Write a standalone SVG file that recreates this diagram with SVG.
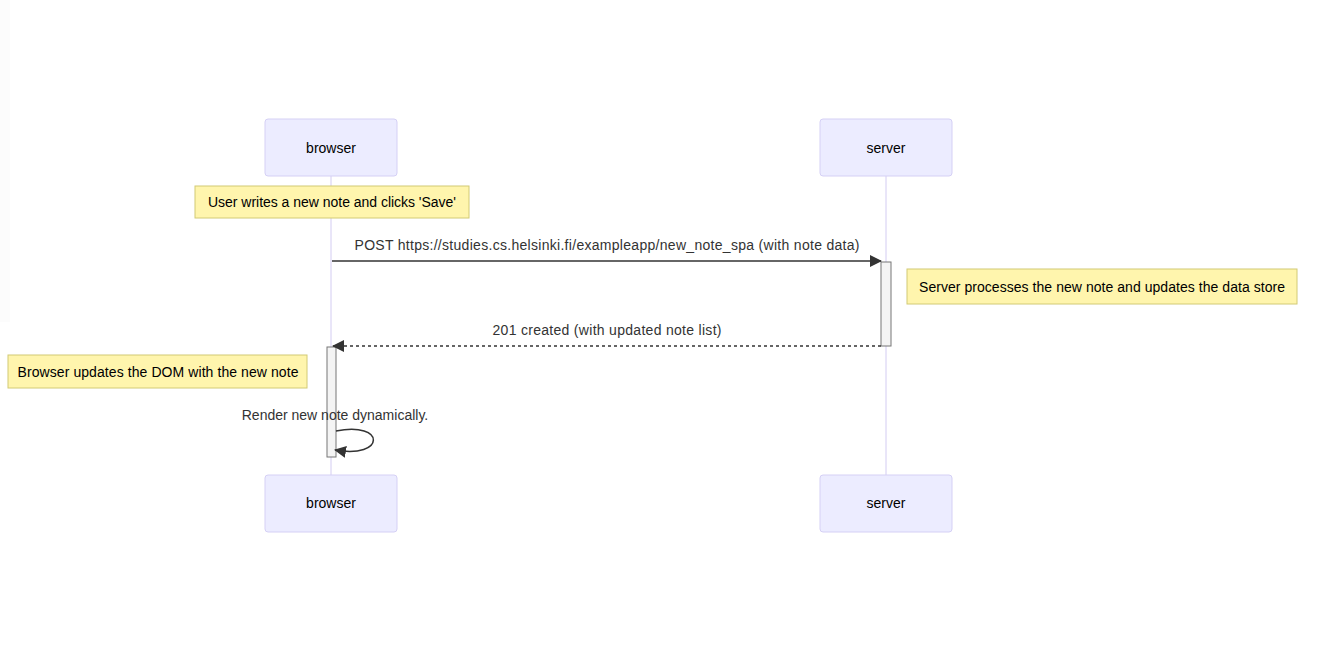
<svg xmlns="http://www.w3.org/2000/svg" width="1338" height="664" viewBox="0 0 1338 664">
  <style>
    .actor { fill: #ececff; stroke: #d5d0f5; stroke-width: 1; }
    .actor-text { font-family: "Liberation Sans", Arial, sans-serif; font-size: 14px; fill: #000; text-anchor: middle; dominant-baseline: central; }
    .lifeline { stroke: #d3ccf2; stroke-width: 1; }
    .note { fill: #fff5ad; stroke: #d2ca75; stroke-width: 1; }
    .note-text { font-family: "Liberation Sans", Arial, sans-serif; font-size: 14px; fill: #000; text-anchor: middle; dominant-baseline: central; }
    .msg-text { font-family: "Liberation Sans", Arial, sans-serif; font-size: 14px; fill: #333; text-anchor: middle; dominant-baseline: central; }
    .msg { stroke: #333; stroke-width: 1.5; fill: none; }
    .dashed { stroke-dasharray: 3 3; }
    .activation { fill: #f4f4f4; stroke: #777; stroke-width: 1; }
  </style>
  <defs>
    <marker id="arrowhead" viewBox="0 0 12 12" refX="11" refY="6" markerWidth="12" markerHeight="12" markerUnits="userSpaceOnUse" orient="auto">
      <path d="M0,0 L12,6 L0,12 z" fill="#333"/>
    </marker>
  </defs>

  <rect x="0" y="0" width="1338" height="664" fill="#fff"/>
  <rect x="0" y="0" width="10" height="322" fill="#fcfcfc"/>

  <!-- lifelines -->
  <g id="lifelines">
    <line class="lifeline" x1="331" y1="176" x2="331" y2="475"/>
    <line class="lifeline" x1="886" y1="176" x2="886" y2="475"/>
  </g>

  <!-- participants -->
  <g id="browser-top">
    <rect class="actor" x="265" y="119" width="132" height="57" rx="3"/>
    <text class="actor-text" x="331" y="148">browser</text>
  </g>
  <g id="server-top">
    <rect class="actor" x="820" y="119" width="132" height="57" rx="3"/>
    <text class="actor-text" x="886" y="148">server</text>
  </g>
  <g id="browser-bottom">
    <rect class="actor" x="265" y="475" width="132" height="57" rx="3"/>
    <text class="actor-text" x="331" y="503">browser</text>
  </g>
  <g id="server-bottom">
    <rect class="actor" x="820" y="475" width="132" height="57" rx="3"/>
    <text class="actor-text" x="886" y="503">server</text>
  </g>

  <!-- activations -->
  <g id="server-activation">
    <rect class="activation" x="881" y="262" width="10" height="84"/>
  </g>
  <g id="browser-activation">
    <rect class="activation" x="327" y="347" width="9" height="110"/>
  </g>

  <!-- notes -->
  <g id="note-save">
    <rect class="note" x="195" y="186" width="274" height="32"/>
    <text class="note-text" x="332" y="202" textLength="248" lengthAdjust="spacing">User writes a new note and clicks 'Save'</text>
  </g>
  <g id="note-server">
    <rect class="note" x="907" y="269" width="390" height="35"/>
    <text class="note-text" x="1102" y="287" textLength="366" lengthAdjust="spacing">Server processes the new note and updates the data store</text>
  </g>
  <g id="note-dom">
    <rect class="note" x="8" y="355" width="299" height="33"/>
    <text class="note-text" x="158" y="372" textLength="281" lengthAdjust="spacing">Browser updates the DOM with the new note</text>
  </g>

  <!-- messages -->
  <g id="connectors">
    <line class="msg" x1="332" y1="261" x2="881" y2="261" marker-end="url(#arrowhead)"/>
    <text class="msg-text" x="607" y="245" textLength="505" lengthAdjust="spacing">POST https://studies.cs.helsinki.fi/exampleapp/new_note_spa (with note data)</text>

    <line class="msg dashed" x1="881" y1="346" x2="333" y2="346" marker-end="url(#arrowhead)"/>
    <text class="msg-text" x="607" y="330" textLength="229" lengthAdjust="spacing">201 created (with updated note list)</text>

    <path class="msg" d="M336,431 C386,421 386,459 335,450" marker-end="url(#arrowhead)"/>
    <text class="msg-text" x="335" y="415">Render new note dynamically.</text>
  </g>
</svg>
